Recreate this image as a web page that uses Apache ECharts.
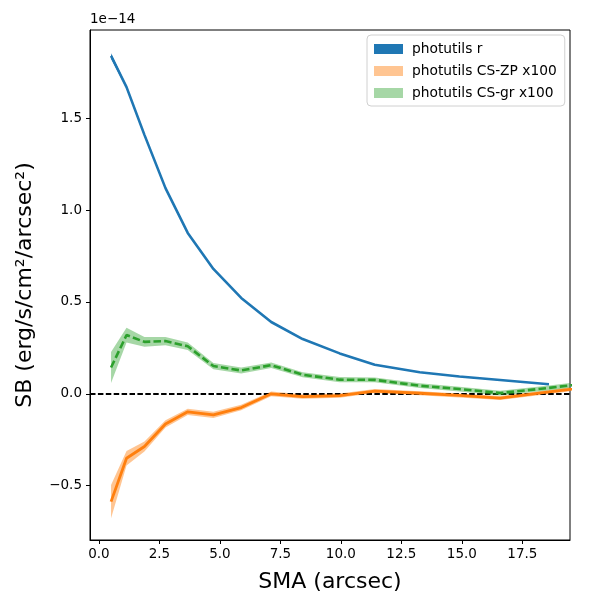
<!DOCTYPE html>
<html lang="en" style="height: 100%">
<head>
<meta charset="UTF-8">
<title>SB profile</title>
<script src="https://cdn.jsdelivr.net/npm/echarts@6/dist/echarts.min.js"></script>
</head>
<body style="height: 100%; margin: 0">
<div id="main" style="width: 600px; height: 600px"></div>
<script>
    // values in units of 1e-14
    var sma = [0.50, 1.14, 1.88, 2.75, 3.67, 4.73, 5.88, 7.12, 8.42, 9.95, 11.40, 13.26, 14.90, 16.58, 18.60, 20.70];
    var sbR = [1.84, 1.67, 1.41, 1.12, 0.876, 0.68, 0.522, 0.391, 0.298, 0.22, 0.158, 0.117, 0.094, 0.075, 0.052];
    var errR = [0.015, 0.008, 0.005, 0.004, 0.003, 0.003, 0.002, 0.002, 0.002, 0.002, 0.002, 0.002, 0.002, 0.002, 0.002];
    var sbZP = [-0.587, -0.351, -0.287, -0.164, -0.098, -0.115, -0.075, 0.0, -0.015, -0.01, 0.015, 0.003, -0.009, -0.023, 0.01, 0.045];
    var errZP = [0.09, 0.04, 0.027, 0.02, 0.017, 0.017, 0.015, 0.013, 0.012, 0.012, 0.011, 0.011, 0.011, 0.011, 0.011, 0.011];
    var sbGR = [0.143, 0.32, 0.283, 0.287, 0.259, 0.151, 0.127, 0.156, 0.104, 0.077, 0.076, 0.044, 0.026, 0.004, 0.032, 0.065];
    var errGR = [0.084, 0.04, 0.027, 0.022, 0.02, 0.017, 0.016, 0.015, 0.014, 0.014, 0.013, 0.013, 0.013, 0.013, 0.013, 0.013];
    var xTicks = [0, 2.5, 5, 7.5, 10, 12.5, 15, 17.5];
    var yTicks = [-0.5, 0, 0.5, 1, 1.5];

    var font = 'DejaVu Sans';

    function pairs(ys) {
        return ys.map(function (v, i) { return [sma[i], v]; });
    }

    // fill_between: one polygon, lower edge forward then upper edge back
    function band(name, ys, err, color, z) {
        var rows = ys.map(function (v, i) { return [sma[i], v - err[i], v + err[i]]; });
        return {
            name: name, type: 'custom', data: rows, z: z, silent: true,
            itemStyle: {color: color},
            encode: {x: 0, y: [1, 2]},
            renderItem: function (params, api) {
                if (params.dataIndex !== 0) return null;
                var pts = [];
                rows.forEach(function (r) { pts.push(api.coord([r[0], r[1]])); });
                rows.slice().reverse().forEach(function (r) { pts.push(api.coord([r[0], r[2]])); });
                var cs = params.coordSys;
                return {
                    type: 'polygon',
                    shape: {points: pts},
                    style: {fill: color, stroke: 'none'},
                    clipPath: {type: 'rect', shape: {x: cs.x, y: cs.y, width: cs.width, height: cs.height}}
                };
            }
        };
    }

    function line(name, ys, color, type, width, z) {
        return {
            name: name, type: 'line', data: pairs(ys), symbol: 'none', silent: true, z: z,
            lineStyle: {color: color, width: width, type: type}
        };
    }

    var series = [
        band('photutils r', sbR, errR, '#1f77b4', 2),
        line('r line', sbR, '#1f77b4', 'solid', 2.6, 3),
        band('photutils CS-ZP x100', sbZP, errZP, 'rgba(255,127,14,0.45)', 4),
        line('zp line', sbZP, '#ff7f0e', 'solid', 2.8, 5),
        band('photutils CS-gr x100', sbGR, errGR, 'rgba(44,160,44,0.42)', 6),
        line('gr line', sbGR, '#2ca02c', [7.5, 3.2], 2.6, 7),
        {
            name: 'zero', type: 'line', data: [], z: 10, silent: true,
            markLine: {
                silent: true, symbol: 'none', label: {show: false},
                lineStyle: {color: '#000', width: 1.8, type: [5.5, 2.4]},
                data: [{yAxis: 0}]
            }
        }
    ];

    var myoption = {
        animation: false,
        backgroundColor: '#fff',
        grid: {left: 90, right: 30, top: 30, bottom: 60, show: true, borderColor: '#000', borderWidth: 1},
        graphic: [{
            type: 'text', left: 90, top: 12,
            style: {text: '1e\u221214', fontSize: 13.5, fontFamily: font, fill: '#000'}
        }],
        legend: {
            orient: 'vertical', left: 367, top: 35, z: 20,
            padding: [7, 8, 6, 7], itemGap: 8, itemWidth: 29, itemHeight: 10,
            backgroundColor: 'rgba(255,255,255,0.8)',
            borderColor: '#d0d0d0', borderWidth: 1, borderRadius: 4,
            icon: 'rect', selectedMode: false,
            textStyle: {fontSize: 13.8, fontFamily: font, color: '#000', padding: [0, 0, 0, 4]},
            data: [
                {name: 'photutils r', itemStyle: {color: '#1f77b4'}},
                {name: 'photutils CS-ZP x100', itemStyle: {color: 'rgba(255,127,14,0.45)'}},
                {name: 'photutils CS-gr x100', itemStyle: {color: 'rgba(44,160,44,0.42)'}}
            ]
        },
        xAxis: {
            type: 'value', min: -0.37, max: 19.47,
            name: 'SMA (arcsec)', nameLocation: 'middle', nameGap: 31,
            nameTextStyle: {fontSize: 22, fontFamily: font, color: '#000'},
            axisLine: {show: true, onZero: false, lineStyle: {color: '#000', width: 1}},
            axisTick: {show: true, length: 4, customValues: xTicks, lineStyle: {color: '#000'}},
            axisLabel: {
                customValues: xTicks, margin: 7, fontSize: 13.5, fontFamily: font, color: '#000',
                formatter: function (v) { return v.toFixed(1); }
            },
            splitLine: {show: false}
        },
        yAxis: {
            type: 'value', min: -0.796, max: 1.981,
            name: 'SB (erg/s/cm\u00b2/arcsec\u00b2)', nameLocation: 'middle', nameGap: 54,
            nameTextStyle: {fontSize: 22, fontFamily: font, color: '#000'},
            axisLine: {show: true, onZero: false, lineStyle: {color: '#000', width: 1}},
            axisTick: {show: true, length: 4, customValues: yTicks, lineStyle: {color: '#000'}},
            axisLabel: {
                customValues: yTicks, margin: 8, fontSize: 13.5, fontFamily: font, color: '#000',
                formatter: function (v) { return v.toFixed(1).replace('-', '\u2212'); }
            },
            splitLine: {show: false}
        },
        series: series
    };

    var myChart = echarts.init(document.getElementById('main'));
    myChart.setOption(myoption);
</script>
</body>
</html>
